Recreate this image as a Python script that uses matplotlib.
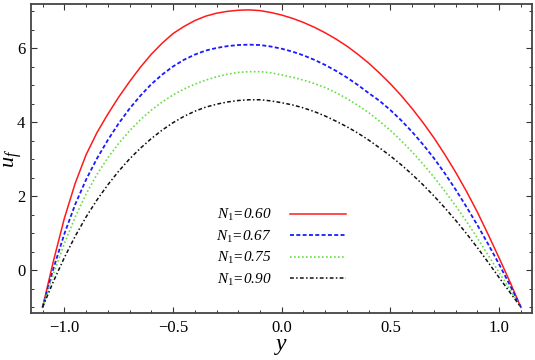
import numpy as np
import matplotlib
matplotlib.use("Agg")
import matplotlib.pyplot as plt
from matplotlib.ticker import MultipleLocator, FuncFormatter

plt.rcParams['font.family'] = ['Liberation Serif', 'DejaVu Serif']
plt.rcParams['mathtext.fontset'] = 'custom'
plt.rcParams['mathtext.rm'] = 'Liberation Serif'
plt.rcParams['mathtext.it'] = 'Liberation Serif:italic'

# values (y from -1.1 to 1.1, step 0.05)
y_vals = [-1.10, -1.05, -1.00, -0.95, -0.90, -0.85, -0.80, -0.75, -0.70, -0.65, -0.60,
          -0.55, -0.50, -0.45, -0.40, -0.35, -0.30, -0.25, -0.20, -0.15, -0.10, -0.05,
          0.00, 0.05, 0.10, 0.15, 0.20, 0.25, 0.30, 0.35, 0.40, 0.45, 0.50,
          0.55, 0.60, 0.65, 0.70, 0.75, 0.80, 0.85, 0.90, 0.95, 1.00, 1.05, 1.10]
u_060 = [-1.00, 0.25, 1.40, 2.35, 3.12, 3.72, 4.22, 4.68, 5.10, 5.49, 5.84,
         6.14, 6.40, 6.59, 6.75, 6.87, 6.95, 7.00, 7.03, 7.04, 7.02, 6.97,
         6.90, 6.81, 6.70, 6.57, 6.42, 6.25, 6.06, 5.84, 5.60, 5.33, 5.04,
         4.72, 4.37, 3.99, 3.58, 3.13, 2.65, 2.13, 1.57, 0.96, 0.33, -0.32, -1.00]
u_067 = [-1.00, 0.05, 0.98, 1.78, 2.45, 3.02, 3.52, 3.97, 4.37, 4.72, 5.03,
         5.29, 5.51, 5.69, 5.83, 5.94, 6.01, 6.06, 6.09, 6.10, 6.09, 6.05,
         5.99, 5.91, 5.81, 5.69, 5.55, 5.39, 5.21, 5.01, 4.79, 4.58, 4.33,
         4.05, 3.74, 3.40, 3.03, 2.62, 2.18, 1.71, 1.22, 0.70, 0.16, -0.41, -1.00]
u_075 = [-1.00, -0.10, 0.72, 1.44, 2.06, 2.59, 3.04, 3.43, 3.77, 4.07, 4.33,
         4.55, 4.74, 4.90, 5.03, 5.14, 5.23, 5.30, 5.35, 5.37, 5.37, 5.34,
         5.28, 5.22, 5.14, 5.05, 4.94, 4.80, 4.64, 4.46, 4.26, 4.03, 3.78,
         3.50, 3.20, 2.87, 2.52, 2.14, 1.74, 1.32, 0.87, 0.40, -0.06, -0.52, -1.00]
u_090 = [-1.00, -0.30, 0.34, 0.92, 1.44, 1.90, 2.31, 2.68, 3.01, 3.30, 3.56,
         3.79, 3.99, 4.16, 4.30, 4.41, 4.49, 4.55, 4.59, 4.61, 4.61, 4.58,
         4.53, 4.47, 4.39, 4.29, 4.17, 4.03, 3.88, 3.71, 3.52, 3.31, 3.09,
         2.85, 2.59, 2.31, 2.01, 1.69, 1.35, 0.99, 0.61, 0.21, -0.20, -0.60, -1.00]
labels = ["0.60", "0.67", "0.75", "0.90"]

fig = plt.figure(figsize=(5.35, 3.6), dpi=100)
ax = fig.add_axes([0.058, 0.131, 0.936, 0.858])

ax.plot(y_vals, u_060, color='#ff1a1a', lw=1.1, ls='-')
ax.plot(y_vals, u_067, color='#1a1aff', lw=1.3, ls=(0, (2.2, 1.3)))
ax.plot(y_vals, u_075, color='#66dd44', lw=1.2, ls=(0, (1, 1.4)))
ax.plot(y_vals, u_090, color='#111111', lw=1.1, ls=(0, (2.5, 1.5, 1, 1.5)))

hs = ax.get_lines()
leg = ax.legend(hs, [r"$N_{\mathit{1}}$=" + s for s in labels],
                loc='upper left', bbox_to_anchor=(0.369, 0.342), frameon=False,
                markerfirst=False, handlelength=3.7, handletextpad=1.2,
                labelspacing=0.35, borderpad=0, borderaxespad=0,
                prop={'style': 'italic', 'size': 11})

ax.set_xlim(-1.153, 1.15)
ax.set_ylim(-1.15, 7.2)
ax.xaxis.set_major_locator(MultipleLocator(0.5))
ax.xaxis.set_minor_locator(MultipleLocator(0.1))
ax.yaxis.set_major_locator(MultipleLocator(2))
ax.yaxis.set_minor_locator(MultipleLocator(0.5))
ax.xaxis.set_major_formatter(FuncFormatter(lambda v, p: ("%.1f" % v).replace("-", "\u2212")))
ax.tick_params(which='both', direction='in', top=True, right=True, colors='#333333', labelcolor='black', labelsize=12)
ax.tick_params(which='major', length=4, width=0.8)
ax.tick_params(which='minor', length=2.5, width=0.7)
ax.tick_params(axis='x', pad=5)
ax.tick_params(axis='y', pad=4)
for s in ax.spines.values():
    s.set_color('#444444')
    s.set_linewidth(1.3)

ax.set_xlabel(r"$y$", fontsize=17, labelpad=0)
ax.set_ylabel(r"$u_f$", fontsize=16, va='center')
ax.yaxis.set_label_coords(-0.036, 0.50)

fig.savefig("out.png", dpi=100)
